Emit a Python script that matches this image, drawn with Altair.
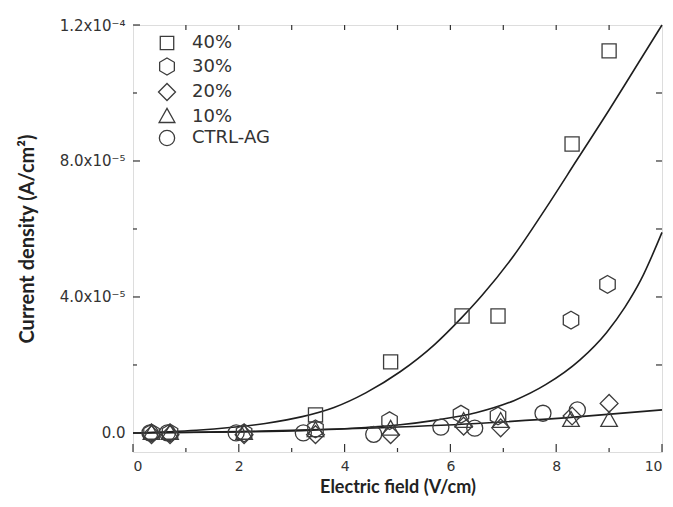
import altair as alt
import pandas as pd

W, H = 529, 427

series_names = ["40%", "30%", "20%", "10%", "CTRL-AG"]

x40 = [3.45, 4.87, 6.22, 6.9, 8.3, 9.0]
y40 = [0.53e-5, 2.09e-5, 3.44e-5, 3.44e-5, 8.5e-5, 11.24e-5]

x30 = [0.35, 0.7, 2.1, 3.45, 4.85, 6.2, 6.9, 8.28, 8.97]
y30 = [0.0, 0.0, 0.0, 0.12e-5, 0.36e-5, 0.55e-5, 0.5e-5, 3.32e-5, 4.37e-5]

x20 = [0.35, 0.7, 2.1, 3.45, 4.87, 6.25, 6.95, 8.3, 9.0]
y20 = [-0.05e-5, -0.05e-5, -0.05e-5, -0.05e-5, -0.05e-5, 0.2e-5, 0.15e-5, 0.5e-5, 0.87e-5]

x10 = [0.35, 0.7, 2.1, 3.45, 4.87, 6.25, 6.95, 8.28, 9.0]
y10 = [0.0, 0.0, 0.0, 0.08e-5, 0.12e-5, 0.35e-5, 0.35e-5, 0.38e-5, 0.38e-5]

xctrl = [0.32, 0.65, 1.95, 3.22, 4.55, 5.82, 6.46, 7.75, 8.4]
yctrl = [0.0, 0.0, 0.0, 0.0, -0.04e-5, 0.17e-5, 0.14e-5, 0.58e-5, 0.68e-5]

fit40_x = [0, 1.2, 2.5, 3.2, 3.8, 4.4, 5.05, 5.7, 6.2, 6.6, 7.2, 7.8, 8.4, 9.0, 9.5, 10]
fit40_y = [0, 0.08e-5, 0.28e-5, 0.48e-5, 0.75e-5, 1.18e-5, 1.8e-5, 2.6e-5, 3.37e-5,
           4.05e-5, 5.22e-5, 6.6e-5, 8.05e-5, 9.5e-5, 10.75e-5, 12.0e-5]

fit30_x = [0, 2, 3.2, 4.4, 5.05, 5.7, 6.5, 7.2, 7.8, 8.45, 8.95, 9.3, 9.6, 10]
fit30_y = [0, 0.03e-5, 0.07e-5, 0.16e-5, 0.24e-5, 0.37e-5, 0.6e-5, 0.95e-5, 1.42e-5,
           2.15e-5, 2.95e-5, 3.7e-5, 4.5e-5, 5.9e-5]

fitlow_x = [0, 2, 4.4, 6.5, 8.45, 10]
fitlow_y = [0, 0.04e-5, 0.14e-5, 0.28e-5, 0.48e-5, 0.68e-5]

x_major = [0, 2, 4, 6, 8, 10]
x_minor = [1, 3, 5, 7, 9]
x_top = [1, 2, 3, 4, 5, 6, 7, 8, 9]
y_major = [0.0, 4e-5, 8e-5, 1.2e-4]
y_minor = [2e-5, 6e-5, 1e-4]
y_right = [2e-5, 4e-5, 6e-5, 8e-5, 1e-4]

square = "M-0.95,-0.95L0.95,-0.95L0.95,0.95L-0.95,0.95Z"
hexagon = "M0,-1.2L1.04,-0.6L1.04,0.6L0,1.2L-1.04,0.6L-1.04,-0.6Z"
diamond = "M-1.2,0L0,-1.2L1.2,0L0,1.2Z"
triangle = "M0,-1.15L1.12,0.85L-1.12,0.85Z"
circle = "M1.08,0A1.08,1.08,0,1,1,-1.08,0A1.08,1.08,0,1,1,1.08,0Z"

rows = []
for name, xs_, ys_ in [("40%", x40, y40), ("30%", x30, y30), ("20%", x20, y20),
                       ("10%", x10, y10), ("CTRL-AG", xctrl, yctrl)]:
    for a, b in zip(xs_, ys_):
        rows.append({"series": name, "x": a, "y": b})
pts = pd.DataFrame(rows)

fits = []
for name, xs_, ys_ in [("f40", fit40_x, fit40_y), ("f30", fit30_x, fit30_y), ("flow", fitlow_x, fitlow_y)]:
    for a, b in zip(xs_, ys_):
        fits.append({"fit": name, "x": a, "y": b})
fit_df = pd.DataFrame(fits)

xs = alt.Scale(domain=[0, 10], nice=False, zero=False)
ys = alt.Scale(domain=[-0.56e-5, 1.2e-4], nice=False, zero=False)

LBL = "DejaVu Sans"
TTL = "Lato"
INK = "#333333"

x_axis = alt.Axis(title="Electric field (V/cm)", values=x_major, ticks=False, domain=False,
                  grid=False, labelPadding=7, labelFont=LBL, labelFontSize=14, labelColor=INK,
                  titleFont=TTL, titleFontSize=18, titleFontWeight="bold", titleColor="#222222",
                  titlePadding=5, format="d")
y_axis = alt.Axis(title="Current density (A/cm²)", values=y_major, ticks=False, domain=False,
                  grid=False, labelPadding=8, labelFont=LBL, labelFontSize=15, labelColor=INK,
                  labelExpr="round(datum.value*1e5) == 0 ? '0.0' : round(datum.value*1e5) == 4 ? '4.0x10⁻⁵' : round(datum.value*1e5) == 8 ? '8.0x10⁻⁵' : '1.2x10⁻⁴'",
                  titleFont=TTL, titleFontSize=20, titleFontWeight="bold", titleColor="#222222",
                  titlePadding=22)

points = alt.Chart(pts).mark_point(filled=False, color="#3c3c3c", strokeWidth=1.3, opacity=1,
                                   size=220).encode(
    x=alt.X("x:Q", scale=xs, axis=x_axis),
    y=alt.Y("y:Q", scale=ys, axis=y_axis),
    shape=alt.Shape("series:N",
                    scale=alt.Scale(domain=series_names,
                                    range=[square, hexagon, diamond, triangle, circle]),
                    legend=alt.Legend(title=None, orient="none", legendX=25, legendY=9,
                                      symbolStrokeColor="#3c3c3c", symbolStrokeWidth=1.3,
                                      symbolFillColor="transparent", symbolSize=200,
                                      labelFont=LBL, labelFontSize=18, labelColor=INK,
                                      labelOffset=16, rowPadding=1.5, padding=0)),
)

lines = alt.Chart(fit_df).mark_line(color="#1e1e1e", strokeWidth=1.6, interpolate="monotone").encode(
    x=alt.X("x:Q", scale=xs, axis=x_axis),
    y=alt.Y("y:Q", scale=ys, axis=y_axis),
    detail="fit:N",
)

TC = "#333333"


def xticks(vals, y0, y1):
    return alt.Chart(pd.DataFrame({"x": vals})).mark_rule(color=TC, strokeWidth=1.2).encode(
        x=alt.X("x:Q", scale=xs, axis=x_axis), y=alt.value(y0), y2=alt.value(y1))


def yticks(vals, x0, x1):
    return alt.Chart(pd.DataFrame({"y": vals})).mark_rule(color=TC, strokeWidth=1.2).encode(
        y=alt.Y("y:Q", scale=ys, axis=y_axis), x=alt.value(x0), x2=alt.value(x1))


tick_layers = [
    xticks(x_major, H, H - 8),
    xticks(x_minor, H, H - 4),
    xticks(x_top, 0, 5),
    yticks(y_major, 0, 7),
    yticks(y_minor, 0, 4),
    yticks(y_right, W, W - 6),
]

chart = alt.layer(lines, *tick_layers, points).properties(
    width=W, height=H,
    autosize=alt.AutoSizeParams(type="none"),
    padding={"left": 125, "top": 17, "right": 3, "bottom": 47},
).configure_view(stroke="#2e2e2e", strokeWidth=1.5).configure(background="white")

chart.save("out.html", embed_options={"renderer": "svg", "actions": False})
